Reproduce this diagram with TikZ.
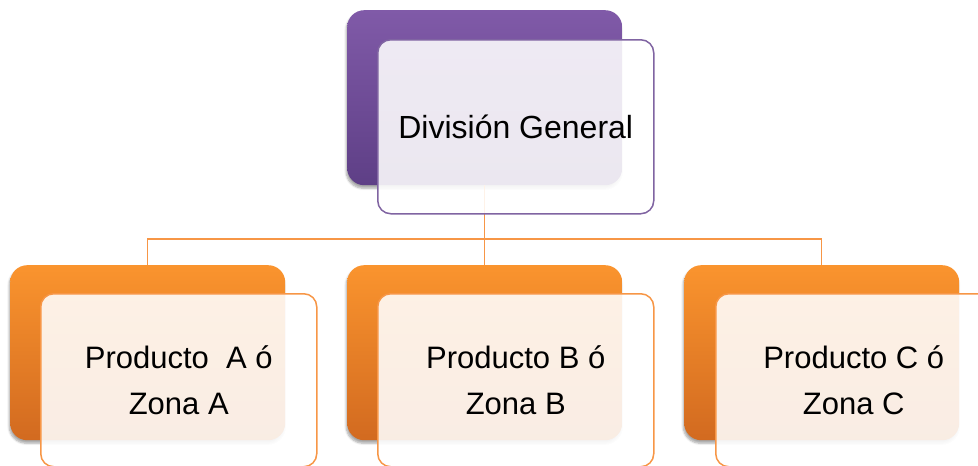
\documentclass[tikz,border=0pt]{standalone}
\usepackage{fontspec}
\setmainfont{Liberation Sans}
\usetikzlibrary{shadows.blur}

\definecolor{purpleTop}{RGB}{128,90,168}
\definecolor{purpleBot}{RGB}{94,63,134}
\definecolor{orangeTop}{RGB}{250,148,46}
\definecolor{orangeBot}{RGB}{210,106,32}
\definecolor{purpleLine}{RGB}{128,100,162}
\definecolor{orangeLine}{RGB}{247,150,70}

\tikzset{
  backbox/.style={rounded corners=17pt, minimum width=275pt, minimum height=175pt,
    inner sep=0pt, anchor=north west,
    blur shadow={shadow xshift=-1pt, shadow yshift=-3pt, shadow blur steps=6, shadow opacity=35}},
  purpleback/.style={backbox, top color=purpleTop, bottom color=purpleBot},
  orangeback/.style={backbox, top color=orangeTop, bottom color=orangeBot},
  frontbox/.style={rounded corners=13pt, minimum width=276pt, minimum height=173pt,
    inner sep=0pt, anchor=north west, fill=white, fill opacity=0.88,
    draw opacity=1, text opacity=1, line width=1.5pt, align=center},
  purplefront/.style={frontbox, draw=purpleLine, font=\fontsize{32}{40}\selectfont},
  orangefront/.style={frontbox, draw=orangeLine, font=\fontsize{31}{46}\selectfont},
  conn/.style={draw=orangeLine, line width=1.5pt}
}

\begin{document}
\begin{tikzpicture}[x=1pt, y=-1pt]
  \useasboundingbox (0,0) rectangle (978,466);

  % back panels
  \node[purpleback] (topb) at (347,10) {};
  \node[orangeback] (ab) at (10,265) {};
  \node[orangeback] (bb) at (347,265) {};
  \node[orangeback] (cb) at (684,265) {};

  % hierarchy connectors
  \coordinate (bus) at (484.5,239);
  \draw[conn] (topb.south) -- (topb.south |- bus) -| (ab.north);
  \draw[conn] (topb.south |- bus) -| (cb.north);
  \draw[conn] (topb.south |- bus) -- (bb.north);

  % front panels with labels
  \node[purplefront, minimum height=174pt] (topf) at (377,39) {División General};
  \node[orangefront] (af) at (40,293) {Producto\ \ A ó\\Zona A};
  \node[orangefront] (bf) at (377,293) {Producto B ó\\Zona B};
  \node[orangefront] (cf) at (715,293) {Producto C ó\\Zona C};
\end{tikzpicture}
\end{document}
